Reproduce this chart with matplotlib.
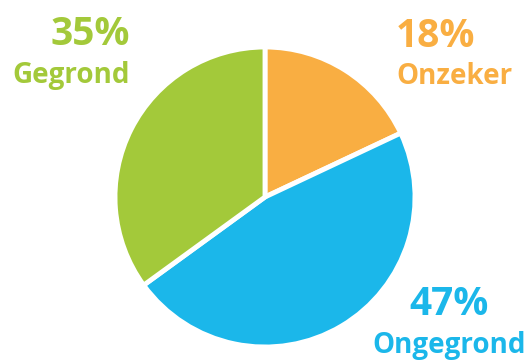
import matplotlib.pyplot as plt

labels = ["Onzeker", "Ongegrond", "Gegrond"]
values = [18, 47, 35]
colors = ["#F9AE42", "#1BB7EA", "#A3C93A"]

plt.rcParams['font.family'] = ['Open Sans', 'DejaVu Sans']

fig = plt.figure(figsize=(5.32, 3.6), dpi=100)
ax = fig.add_axes([0, 0, 1, 1])

ax.pie(values, colors=colors, startangle=90, counterclock=False,
       center=(265, 360 - 197), radius=150,
       wedgeprops=dict(edgecolor='white', linewidth=3.5))
ax.set_xlim(0, 532)
ax.set_ylim(0, 360)
ax.set_aspect('equal')
ax.axis('off')

# label positions in pixels from top: (x, baseline of pct, baseline of name, alignment)
pos = {"Onzeker": (396, 47, 84, 'left'),
       "Ongegrond": (449, 315, 353, 'center'),
       "Gegrond": (130, 45, 83, 'right')}

for lab, v, c in zip(labels, values, colors):
    x, y1, y2, ha = pos[lab]
    ax.text(x, 360 - y1, f"{v}%", color=c, fontsize=28, fontweight='bold',
            ha=ha, va='baseline')
    ax.text(x, 360 - y2, lab, color=c, fontsize=20, fontweight='bold',
            ha=ha, va='baseline')

fig.savefig("out.png", dpi=100)
